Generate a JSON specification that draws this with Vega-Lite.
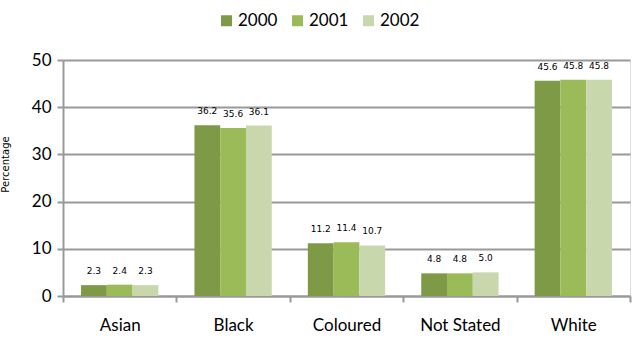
{
  "$schema": "https://vega.github.io/schema/vega-lite/v6.json",
  "autosize": "none",
  "width": 567,
  "height": 236,
  "padding": {"left": 63, "top": 60, "right": 2, "bottom": 42},
  "background": "white",
  "data": {
    "values": [
      {"group": "Asian", "year": "2000", "value": 2.3},
      {"group": "Asian", "year": "2001", "value": 2.4},
      {"group": "Asian", "year": "2002", "value": 2.3},
      {"group": "Black", "year": "2000", "value": 36.2},
      {"group": "Black", "year": "2001", "value": 35.6},
      {"group": "Black", "year": "2002", "value": 36.1},
      {"group": "Coloured", "year": "2000", "value": 11.2},
      {"group": "Coloured", "year": "2001", "value": 11.4},
      {"group": "Coloured", "year": "2002", "value": 10.7},
      {"group": "Not Stated", "year": "2000", "value": 4.8},
      {"group": "Not Stated", "year": "2001", "value": 4.8},
      {"group": "Not Stated", "year": "2002", "value": 5.0},
      {"group": "White", "year": "2000", "value": 45.6},
      {"group": "White", "year": "2001", "value": 45.8},
      {"group": "White", "year": "2002", "value": 45.8}
    ]
  },
  "encoding": {
    "x": {
      "field": "group", "type": "nominal", "sort": null,
      "scale": {"paddingInner": 0, "paddingOuter": 0},
      "axis": {
        "title": null, "labelAngle": 0, "labelFont": "Lato", "labelFontSize": 17,
        "labelColor": "#000000", "labelPadding": 15, "tickBand": "extent",
        "tickSize": 6, "tickColor": "#999999", "tickWidth": 2,
        "domainColor": "#999999", "domainWidth": 2
      }
    },
    "xOffset": {"field": "year", "type": "nominal", "scale": {"paddingInner": 0, "paddingOuter": 0.7}},
    "y": {
      "field": "value", "type": "quantitative",
      "scale": {"domain": [0, 50]},
      "axis": {
        "values": [0, 10, 20, 30, 40, 50], "title": "Percentage",
        "titleFont": "DejaVu Sans", "titleFontSize": 10, "titleFontWeight": "normal",
        "titleX": -53, "titleY": 104, "titleAngle": 270, "titleColor": "#000000",
        "labelFont": "Lato", "labelFontSize": 17, "labelColor": "#000000", "labelPadding": 6,
        "tickSize": 6, "tickColor": "#999999", "tickWidth": 2,
        "domainColor": "#999999", "domainWidth": 2,
        "grid": true, "gridColor": "#999999", "gridWidth": 2
      }
    }
  },
  "layer": [
    {
      "mark": {"type": "bar"},
      "encoding": {
        "color": {
          "field": "year", "type": "nominal",
          "scale": {"range": ["#7E9A47", "#9BBB59", "#C8D8AC"]},
          "legend": {
            "title": null, "orient": "none", "legendX": 155, "legendY": -48,
            "direction": "horizontal", "columns": 3, "symbolType": "square",
            "symbolSize": 121, "symbolStrokeWidth": 0, "labelFont": "Lato",
            "labelFontSize": 17, "labelColor": "#000000", "columnPadding": 11,
            "labelOffset": 3
          }
        }
      }
    },
    {
      "mark": {"type": "text", "baseline": "bottom", "dy": -9, "font": "DejaVu Sans", "fontSize": 9, "color": "#000000"},
      "encoding": {
        "text": {"field": "value", "type": "quantitative", "format": ".1f"}
      }
    }
  ]
}
